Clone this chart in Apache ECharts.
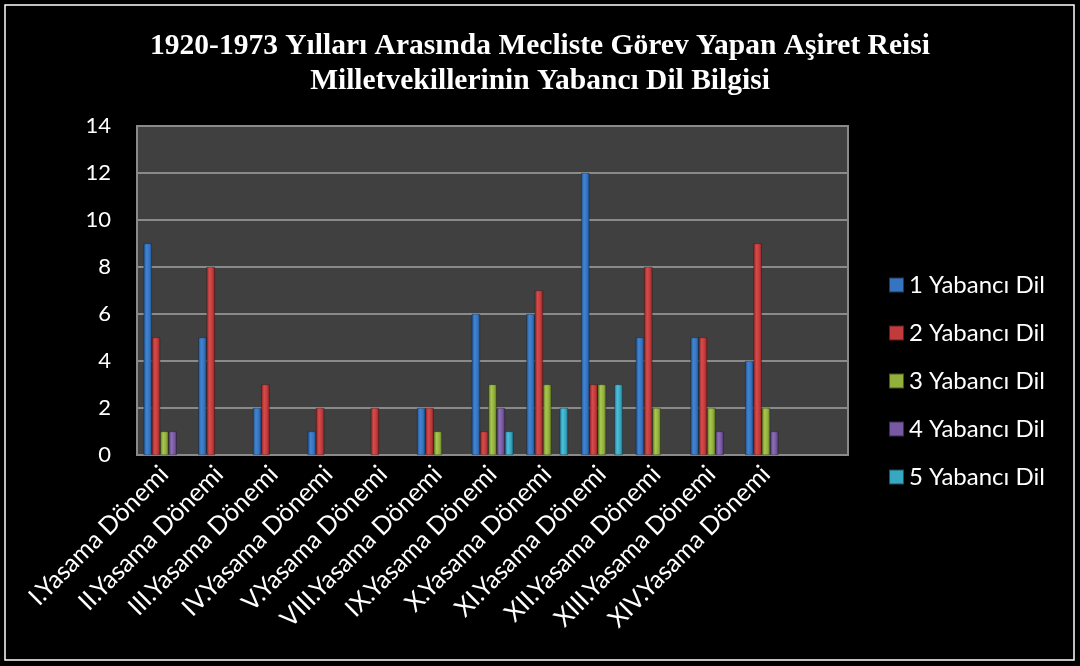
<!DOCTYPE html>
<html>
<head>
<meta charset="utf-8">
<script src="https://cdn.jsdelivr.net/npm/echarts@6/dist/echarts.min.js"></script>
<style>
  html, body { margin: 0; padding: 0; background: #000; }
  #chart { width: 1080px; height: 666px; }
</style>
</head>
<body>
<div id="chart"></div>
<script>
var categories = ['I.Yasama Dönemi', 'II.Yasama Dönemi', 'III.Yasama Dönemi', 'IV.Yasama Dönemi',
    'V.Yasama Dönemi', 'VIII.Yasama Dönemi', 'IX.Yasama Dönemi', 'X.Yasama Dönemi',
    'XI.Yasama Dönemi', 'XII.Yasama Dönemi', 'XIII.Yasama Dönemi', 'XIV.Yasama Dönemi', ''];
var seriesNames = ['1 Yabancı Dil', '2 Yabancı Dil', '3 Yabancı Dil', '4 Yabancı Dil', '5 Yabancı Dil'];
var dil1 = [9, 5, 2, 1, 0, 2, 6, 6, 12, 5, 5, 4, 0];
var dil2 = [5, 8, 3, 2, 2, 2, 1, 7, 3, 8, 5, 9, 0];
var dil3 = [1, 0, 0, 0, 0, 1, 3, 3, 3, 2, 2, 2, 0];
var dil4 = [1, 0, 0, 0, 0, 0, 2, 0, 0, 0, 1, 1, 0];
var dil5 = [0, 0, 0, 0, 0, 0, 1, 2, 3, 0, 0, 0, 0];
var yTicks = [0, 2, 4, 6, 8, 10, 12, 14];

var allData = [dil1, dil2, dil3, dil4, dil5];
// dark edge, light middle, base colour
var colors = [
    ['#1f4f8a', '#4185d2', '#3674c0'],
    ['#8a2224', '#d64c4a', '#c23b3c'],
    ['#5f7a22', '#a8c84e', '#92b03c'],
    ['#4b3570', '#8d6fb4', '#7758a2'],
    ['#1f7890', '#4ec0da', '#37a7c2']
];

function barGradient(c) {
    return new echarts.graphic.LinearGradient(0, 0, 1, 0, [
        { offset: 0, color: c[0] },
        { offset: 0.35, color: c[1] },
        { offset: 0.7, color: c[2] },
        { offset: 1, color: c[0] }
    ]);
}

var myChart = echarts.init(document.getElementById('chart'));

var series = [];
for (var i = 0; i < allData.length; i++) {
    series.push({
        name: seriesNames[i],
        type: 'bar',
        data: allData[i].map(function (v) { return v === 0 ? null : v; }),
        barGap: '0%',
        barCategoryGap: '24%',
        itemStyle: { color: barGradient(colors[i]), borderColor: 'rgba(0,0,0,0.5)', borderWidth: 0.5 }
    });
}

var option = {
    backgroundColor: '#000',
    animation: false,
    title: {
        text: '1920-1973 Yılları Arasında Mecliste Görev Yapan Aşiret Reisi\nMilletvekillerinin Yabancı Dil Bilgisi',
        left: 'center',
        top: 24,
        textStyle: {
            color: '#fff',
            fontFamily: 'Liberation Serif',
            fontWeight: 'bold',
            fontSize: 29.5,
            lineHeight: 35
        }
    },
    legend: {
        orient: 'vertical',
        left: 883,
        top: 268,
        itemWidth: 15,
        itemHeight: 15,
        itemGap: 24,
        itemTextGap: 7,
        icon: 'rect',
        textStyle: { color: '#fff', fontFamily: 'Lato', fontSize: 24, lineHeight: 23 },
        data: seriesNames.map(function (n, i) {
            return { name: n, itemStyle: { color: colors[i][2] } };
        })
    },
    grid: {
        left: 137,
        right: 232,
        top: 126,
        bottom: 211,
        show: true,
        backgroundColor: '#404040',
        borderColor: '#8a8a8a',
        borderWidth: 2
    },
    xAxis: {
        type: 'category',
        data: categories,
        axisLine: { lineStyle: { color: '#8a8a8a', width: 2 } },
        axisTick: { show: false },
        axisLabel: {
            color: '#fff',
            fontFamily: 'Lato',
            fontSize: 25,
            rotate: 45,
            interval: 0,
            margin: 15
        }
    },
    yAxis: {
        type: 'value',
        min: yTicks[0],
        max: yTicks[yTicks.length - 1],
        interval: 2,
        axisLine: { show: false },
        axisTick: { show: false },
        axisLabel: { color: '#fff', fontFamily: 'Lato', fontSize: 22, margin: 26 },
        splitLine: { lineStyle: { color: '#8a8a8a', width: 2 } }
    },
    graphic: [{
        type: 'rect',
        shape: { x: 5, y: 5, width: 1069, height: 655 },
        style: { fill: 'none', stroke: '#fff', lineWidth: 1.5 },
        silent: true
    }],
    series: series
};

myChart.setOption(option);
</script>
</body>
</html>
